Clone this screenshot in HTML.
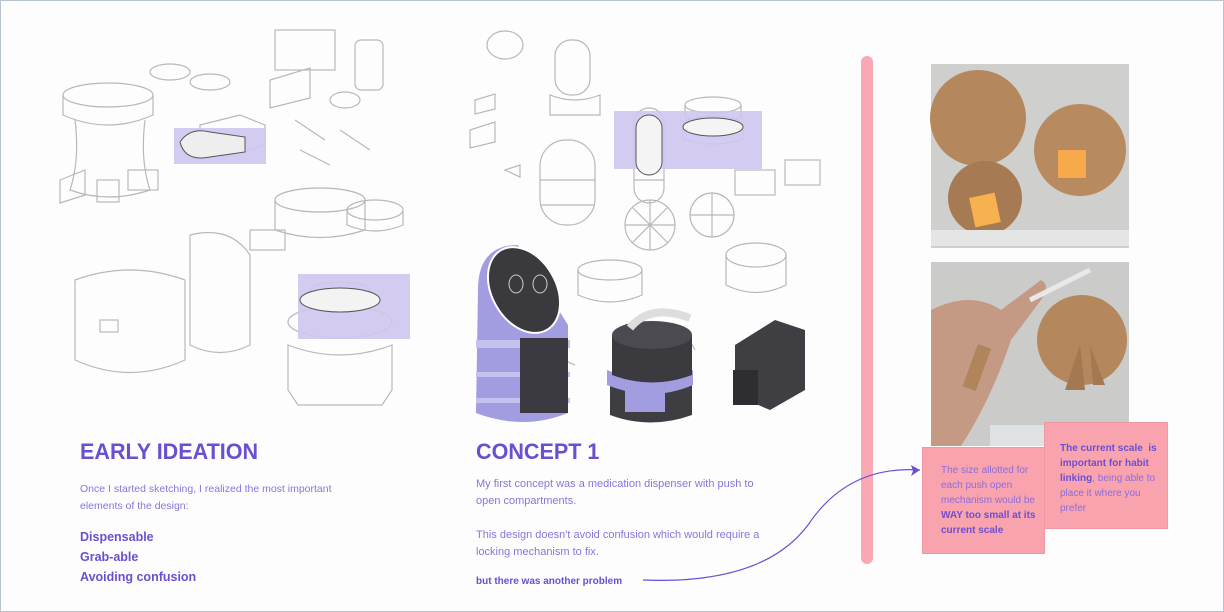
<!DOCTYPE html>
<html><head><meta charset="utf-8"><style>
body{margin:0;width:1224px;height:612px;background:#fdfdfe;position:relative;overflow:hidden;font-family:"Liberation Sans",sans-serif}
.frame{position:absolute;left:0;top:0;width:1222px;height:610px;border:1px solid #b9c3cf}
.t{position:absolute;color:#8b74dc;font-size:11px;line-height:17px}
h1{position:absolute;margin:0;font-size:22px;font-weight:bold;color:#6b4fd0;letter-spacing:0px;transform:scaleX(0.98);transform-origin:left}
.b{position:absolute;color:#6b4fd0;font-weight:bold;font-size:12.5px;line-height:20px}
.pk{position:absolute;background:#f9a3ae;border:1px solid #ef97a3;color:#8a6ddc;font-size:10px;line-height:15px;box-sizing:border-box}
.pk b{color:#6b4fd0}
</style></head><body>
<div class="frame"></div>
<svg width="1224" height="612" style="position:absolute;left:0;top:0">
<g fill="none" stroke="#b8b8bc" stroke-width="1.2">
<ellipse cx="108" cy="95" rx="45" ry="12"/><path d="M63 95 v20 q45 20 90 0 v-20"/>
<path d="M75 120 q5 40 -5 70 q38 14 80 0 q-10 -30 -5 -70"/>
<ellipse cx="170" cy="72" rx="20" ry="8"/><ellipse cx="210" cy="82" rx="20" ry="8"/>
<path d="M60 180 l25 -10 v25 l-25 8z"/><rect x="97" y="180" width="22" height="22"/><rect x="128" y="170" width="30" height="20"/>
<path d="M200 125 l40 -10 l25 10 v20 l-40 12 l-25 -12z"/>
<rect x="275" y="30" width="60" height="40"/><path d="M270 80 l40 -12 v30 l-40 10z"/>
<rect x="355" y="40" width="28" height="50" rx="6"/><path d="M295 120 l30 20 M340 130 l30 20 M300 150 l30 15"/>
<ellipse cx="345" cy="100" rx="15" ry="8"/><rect x="250" y="230" width="35" height="20"/>
<ellipse cx="320" cy="200" rx="45" ry="12"/><path d="M275 200 v30 q45 15 90 0 v-30"/>
<ellipse cx="375" cy="210" rx="28" ry="10"/><path d="M347 210 v15 q28 12 56 0 v-15"/>
<path d="M190 235 q40 -10 60 20 v90 q-30 15 -60 0z"/>
<path d="M75 280 q55 -20 110 0 v80 q-55 25 -110 0z"/><rect x="100" y="320" width="18" height="12"/>
<ellipse cx="340" cy="322" rx="52" ry="16"/><path d="M288 345 q52 20 104 0 v45 l-10 15 h-84 l-10 -15z"/>
<ellipse cx="340" cy="290" rx="30" ry="8"/>
<ellipse cx="505" cy="45" rx="18" ry="14"/><rect x="555" y="40" width="35" height="55" rx="16"/><path d="M550 95 q25 10 50 0 v20 h-50z"/>
<rect x="540" y="140" width="55" height="85" rx="26"/><path d="M540 180 h55 M540 205 h55"/>
<rect x="634" y="108" width="30" height="95" rx="15"/><path d="M634 130 h30 M634 155 h30 M634 180 h30"/>
<ellipse cx="713" cy="105" rx="28" ry="8"/><path d="M685 105 v12 q28 10 56 0 v-12"/>
<ellipse cx="713" cy="125" rx="30" ry="9"/><path d="M683 125 v14 q30 10 60 0 v-14"/>
<path d="M475 100 l20 -6 v15 l-20 5z M470 130 l25 -8 v20 l-25 6z M505 170 l15 -5 v12 z"/>
<rect x="735" y="170" width="40" height="25"/><rect x="785" y="160" width="35" height="25"/>
<circle cx="650" cy="225" r="25"/><path d="M625 225 h50 M650 200 v50 M632 207 l36 36 M668 207 l-36 36"/>
<circle cx="712" cy="215" r="22"/><path d="M690 215 h44 M712 193 v44"/>
<ellipse cx="756" cy="255" rx="30" ry="12"/><path d="M726 255 v30 q30 15 60 0 v-30"/>
<ellipse cx="610" cy="270" rx="32" ry="10"/><path d="M578 270 v25 q32 14 64 0 v-25"/>
<path d="M555 345 q5 15 20 20 M680 330 q10 10 15 20 M780 365 q5 15 10 20"/>
</g>
<g fill="#cfc5ee" opacity="0.9">
<rect x="174" y="128" width="92" height="36"/>
<rect x="298" y="274" width="112" height="65"/>
<rect x="614" y="111" width="148" height="58"/>
</g>
<g fill="none" stroke="#555" stroke-width="1">
<path d="M180 142 q10 -15 30 -10 l35 5 v15 l-35 5 q-25 5 -30 -15z" fill="#eee"/>
<ellipse cx="340" cy="300" rx="40" ry="12" fill="#f3f3f3"/>
<rect x="636" y="115" width="26" height="60" rx="13" fill="#f4f4f4"/>
<ellipse cx="713" cy="127" rx="30" ry="9" fill="#f4f4f4"/>
</g>
<path d="M478 290 q0 -45 40 -45 l50 80 v88 q-45 18 -92 0z" fill="#a29ce0"/>
<path d="M476 340 h94 v8 h-94z M476 372 h94 v5 h-94z M476 398 h94 v5 h-94z" fill="#c5c1ee"/>
<rect x="520" y="338" width="48" height="75" fill="#3a3a40"/>
<ellipse cx="524" cy="290" rx="32" ry="46" transform="rotate(-30 524 290)" fill="#39393e" stroke="#fff" stroke-width="2"/>
<ellipse cx="516" cy="284" rx="7" ry="9" fill="none" stroke="#ccc"/><ellipse cx="540" cy="284" rx="7" ry="9" fill="none" stroke="#ccc"/>
<path d="M610 375 v40 q40 15 82 0 v-40z" fill="#3d3d42"/>
<rect x="625" y="390" width="40" height="22" fill="#a29ce0"/>
<path d="M607 370 q42 18 86 0 v15 q-42 18 -86 0z" fill="#a29ce0"/>
<path d="M612 335 v40 q40 15 80 0 v-40z" fill="#3a3a3f"/>
<ellipse cx="652" cy="335" rx="40" ry="14" fill="#4a4a50"/>
<path d="M630 328 q20 -25 60 -10" fill="none" stroke="#ddd" stroke-width="8"/>
<path d="M735 345 l40 -25 l30 10 v60 l-35 20 l-35 -15z" fill="#3e3e43"/>
<rect x="733" y="370" width="25" height="35" fill="#2e2e32"/>
<rect x="861" y="56" width="12" height="508" rx="6" fill="#f9a8b4"/>
<rect x="931" y="64" width="198" height="184" fill="#cfcfcd"/>
<circle cx="978" cy="118" r="48" fill="#b4875d"/>
<circle cx="1080" cy="150" r="46" fill="#b88a60"/>
<circle cx="985" cy="198" r="37" fill="#a67a52"/>
<rect x="1058" y="150" width="28" height="28" fill="#f7a94b"/>
<rect x="972" y="195" width="26" height="30" fill="#f6b24f" transform="rotate(-12 985 210)"/>
<rect x="931" y="230" width="198" height="16" fill="#e4e6e6"/>
<rect x="931" y="262" width="198" height="184" fill="#cbcbca"/>
<circle cx="1082" cy="340" r="45" fill="#b4875d"/>
<path d="M1080 345 l-15 45 h20z M1090 345 l15 40 h-12z" fill="#a47850"/>
<path d="M931 310 q40 -20 70 0 l40 -30 q10 5 0 20 l-30 40 q-20 60 -50 106 h-30z" fill="#c59a85"/>
<path d="M1030 300 l60 -30" stroke="#e8e8e8" stroke-width="5"/>
<rect x="970" y="345" width="14" height="45" fill="#b0855b" transform="rotate(20 977 367)"/>
<rect x="990" y="425" width="139" height="21" fill="#dfe2e2"/>
<path d="M643 580 q120 5 165 -55 q40 -60 112 -55" fill="none" stroke="#6b4fd0" stroke-width="1.2"/>
<path d="M920 470 l-9 -5 l2 6 l-2 5z" fill="#6b4fd0"/>
</svg>
<h1 style="left:80px;top:439px">EARLY IDEATION</h1>
<div class="t" style="left:80px;top:481px;width:260px;font-size:10.5px">Once I started sketching, I realized the most important elements of the design:</div>
<div class="b" style="left:80px;top:527px">Dispensable<br>Grab-able<br>Avoiding confusion</div>
<h1 style="left:476px;top:439px">CONCEPT 1</h1>
<div class="t" style="left:476px;top:476px;width:300px">My first concept was a medication dispenser with push to open compartments.<br><br>This design doesn't avoid confusion which would require a locking mechanism to fix.</div>
<div class="b" style="left:476px;top:572px;font-size:10px">but there was another problem</div>
<div class="pk" style="left:922px;top:447px;width:123px;height:107px;padding:15px 6px 0 18px">The size allotted for each push open mechanism would be <b>WAY too small at its current scale</b></div>
<div class="pk" style="left:1044px;top:422px;width:124px;height:107px;padding:18px 8px 0 15px"><b>The current scale &nbsp;is important for habit linking</b>, being able to place it where you prefer</div>
</body></html>
